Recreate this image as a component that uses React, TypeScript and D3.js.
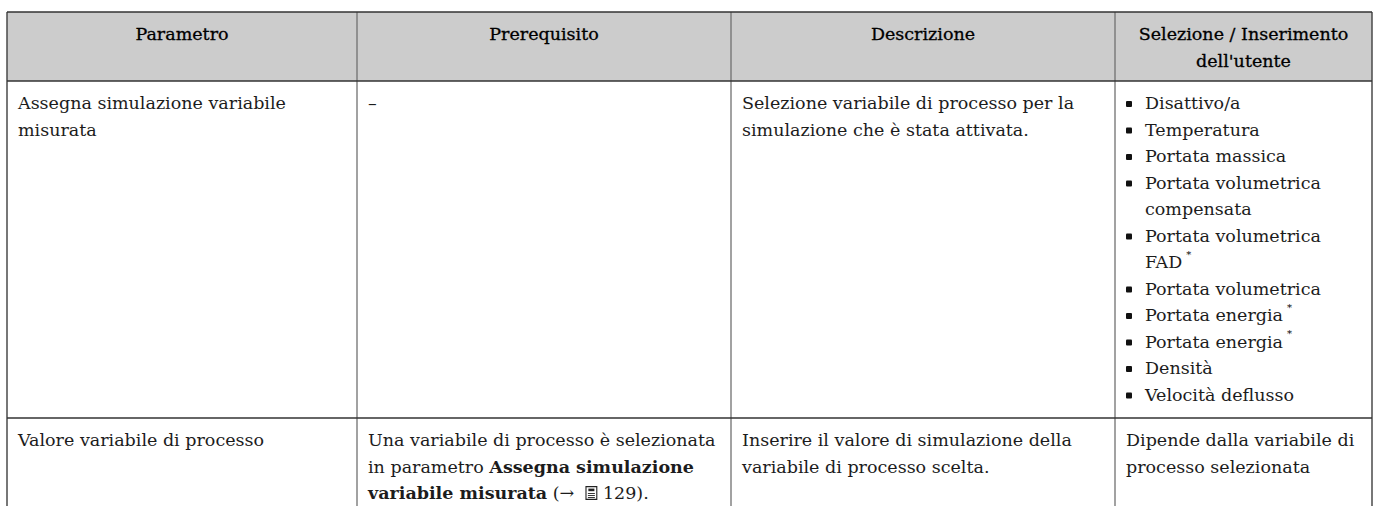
import React, { useEffect, useRef } from "react";
import * as d3 from "d3";

// column headers (each entry = wrapped lines)
const headers: string[][] = [
  ["Parametro"],
  ["Prerequisito"],
  ["Descrizione"],
  ["Selezione / Inserimento", "dell'utente"],
];

// row 1
const row1Param = ["Assegna simulazione variabile", "misurata"];
const row1Prereq = ["–"];
const row1Descr = ["Selezione variabile di processo per la", "simulazione che è stata attivata."];
// list items: lines + whether the item carries the "*" footnote mark
const row1Options: { lines: string[]; star: boolean }[] = [
  { lines: ["Disattivo/a"], star: false },
  { lines: ["Temperatura"], star: false },
  { lines: ["Portata massica"], star: false },
  { lines: ["Portata volumetrica", "compensata"], star: false },
  { lines: ["Portata volumetrica", "FAD"], star: true },
  { lines: ["Portata volumetrica"], star: false },
  { lines: ["Portata energia"], star: true },
  { lines: ["Portata energia"], star: true },
  { lines: ["Densità"], star: false },
  { lines: ["Velocità deflusso"], star: false },
];

// row 2
const row2Param = ["Valore variabile di processo"];
// rich text: segments per line, b = bold, icon = page reference icon
const row2Prereq: { t: string; b?: boolean; icon?: boolean }[][] = [
  [{ t: "Una variabile di processo è selezionata" }],
  [{ t: "in parametro " }, { t: "Assegna simulazione", b: true }],
  [{ t: "variabile misurata", b: true }, { t: " (→  " }, { t: "", icon: true }, { t: " 129)." }],
];
const row2Descr = ["Inserire il valore di simulazione della", "variabile di processo scelta."];
const row2Sel = ["Dipende dalla variabile di", "processo selezionata"];

const W = 1375;
const H = 506;
const FONT = "'DejaVu Serif', serif";
const FS = 17.5;
const LH = 26.5;

export default function App() {
  const ref = useRef<SVGSVGElement>(null);

  useEffect(() => {
    const svg = d3.select(ref.current);
    svg.selectAll("*").remove();

    // column edges
    const colEdges = [7, 357, 731, 1115, 1372];
    const colL = (i: number) => colEdges[i];
    // row edges
    const rowEdges = [12, 81, 418, 540];
    const padX = 11;
    const padTop = 22; // from row top to first line centre

    const g = svg.append("g").attr("font-family", FONT).attr("font-size", FS).attr("fill", "#1c1c1c");

    // header background
    g.append("rect")
      .attr("x", colEdges[0]).attr("y", rowEdges[0])
      .attr("width", colEdges[4] - colEdges[0]).attr("height", rowEdges[1] - rowEdges[0])
      .attr("fill", "#cccccc");

    const lineY = (row: number, k: number) => rowEdges[row] + padTop + k * LH;

    const textLines = (col: number, row: number, lines: string[], xOff = padX) => {
      g.selectAll(null)
        .data(lines)
        .enter()
        .append("text")
        .attr("x", colL(col) + xOff)
        .attr("y", (_, k) => lineY(row, k))
        .attr("dominant-baseline", "central")
        .text((d) => d);
    };

    // header text
    headers.forEach((lines, i) => {
      g.selectAll(null)
        .data(lines)
        .enter()
        .append("text")
        .attr("x", (colL(i) + colL(i + 1)) / 2)
        .attr("y", (_, k) => lineY(0, k))
        .attr("text-anchor", "middle")
        .attr("dominant-baseline", "central")
        .attr("fill", "#000")
        .attr("stroke", "#000")
        .attr("stroke-width", 0.3)
        .text((d) => d);
    });

    // row 1
    textLines(0, 1, row1Param);
    textLines(1, 1, row1Prereq);
    textLines(2, 1, row1Descr);
    const textX = colL(3) + padX + 19;
    let k = 0;
    row1Options.forEach((opt) => {
      g.append("rect")
        .attr("x", colL(3) + padX)
        .attr("y", lineY(1, k) - 2)
        .attr("width", 6).attr("height", 6)
        .attr("rx", 1)
        .attr("fill", "#111");
      opt.lines.forEach((ln, j) => {
        const t = g.append("text")
          .attr("x", textX)
          .attr("y", lineY(1, k + j))
          .attr("dominant-baseline", "central")
          .text(ln);
        if (opt.star && j === opt.lines.length - 1) {
          const w = (t.node() as SVGTextElement).getComputedTextLength();
          g.append("text")
            .attr("x", textX + w + 4)
            .attr("y", lineY(1, k + j) - 8)
            .attr("dominant-baseline", "central")
            .attr("font-size", 10)
            .attr("fill", "#000")
            .text("*");
        }
      });
      k += opt.lines.length;
    });

    // row 2
    textLines(0, 2, row2Param);
    row2Prereq.forEach((segs, li) => {
      let cx = colL(1) + padX;
      segs.forEach((s) => {
        if (s.icon) {
          const y0 = lineY(2, li) - 7;
          const ic = g.append("g").attr("transform", `translate(${cx},${y0})`);
          ic.append("path")
            .attr("d", "M0.6,0.6 H11.4 V13.4 H0.6 Z")
            .attr("fill", "none").attr("stroke", "#222").attr("stroke-width", 1.1);
          ic.append("rect").attr("x", 3).attr("y", 2.6).attr("width", 6).attr("height", 2.6).attr("fill", "#222");
          [7.5, 9.5, 11.5].forEach((yy) =>
            ic.append("line").attr("x1", 2.5).attr("x2", 9.5).attr("y1", yy).attr("y2", yy)
              .attr("stroke", "#222").attr("stroke-width", 0.9));
          cx += 12;
          return;
        }
        const t = g.append("text")
          .attr("x", cx)
          .attr("y", lineY(2, li))
          .attr("dominant-baseline", "central")
          .attr("font-weight", s.b ? "bold" : "normal")
          .style("white-space", "pre")
          .text(s.t);
        cx += (t.node() as SVGTextElement).getComputedTextLength();
      });
    });
    textLines(2, 2, row2Descr);
    textLines(3, 2, row2Sel);

    // grid lines
    const grid = svg.append("g");
    grid.selectAll(null)
      .data([1, 2, 3])
      .enter()
      .append("line")
      .attr("x1", (d) => colL(d)).attr("x2", (d) => colL(d))
      .attr("y1", rowEdges[0]).attr("y2", H)
      .attr("stroke", "#707070").attr("stroke-width", 1.3);
    grid.selectAll(null)
      .data([0, 4])
      .enter()
      .append("line")
      .attr("x1", (d) => colL(d)).attr("x2", (d) => colL(d))
      .attr("y1", rowEdges[0]).attr("y2", H)
      .attr("stroke", "#4a4a4a").attr("stroke-width", 1.5);
    grid.selectAll(null)
      .data([0, 1, 2])
      .enter()
      .append("line")
      .attr("x1", colL(0)).attr("x2", colL(4))
      .attr("y1", (d) => rowEdges[d]).attr("y2", (d) => rowEdges[d])
      .attr("stroke", "#333").attr("stroke-width", 1.5);
  }, []);

  return (
    <svg
      ref={ref}
      width={W}
      height={H}
      style={{ position: "absolute", left: 0, top: 0, background: "#fff" }}
    />
  );
}
